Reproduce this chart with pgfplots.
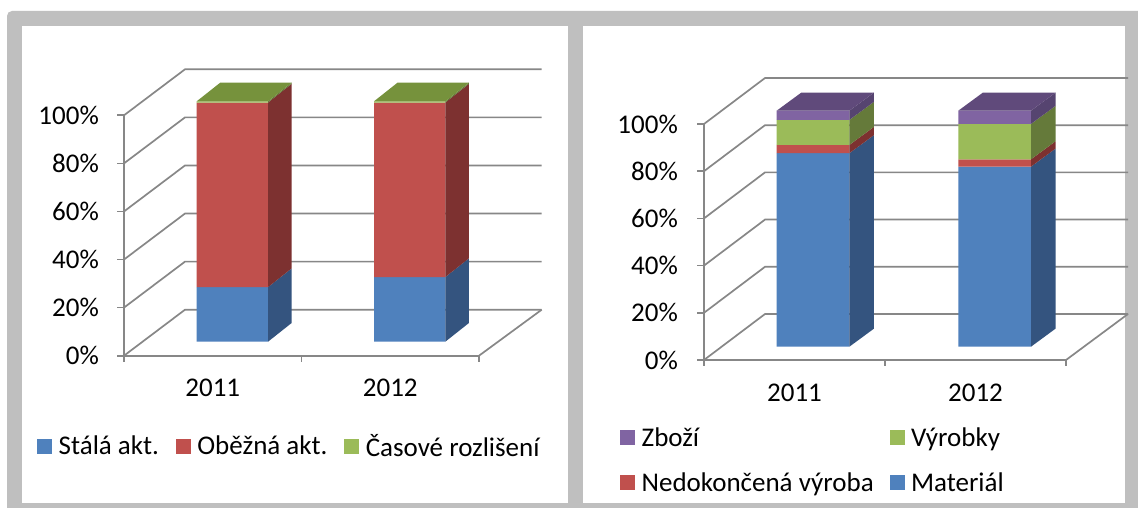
\documentclass[border=0pt]{standalone}
\usepackage{pgfplots}
\pgfplotsset{compat=1.18}
\usepackage{fontspec}
\setmainfont{Carlito}
\definecolor{gridc}{HTML}{878787}
\definecolor{framec}{HTML}{BFBFBF}
\definecolor{blueF}{HTML}{4F81BD}
\definecolor{blueS}{HTML}{34547F}
\definecolor{redF}{HTML}{C0504D}
\definecolor{redS}{HTML}{7D3130}
\definecolor{greenF}{HTML}{9BBB59}
\definecolor{greenS}{HTML}{657A3A}
\definecolor{greenT}{HTML}{76923C}
\definecolor{purpF}{HTML}{8064A2}
\definecolor{purpS}{HTML}{564470}
\definecolor{purpT}{HTML}{604A7B}
% one stacked segment: left x, bottom (%), value (%), front colour, side colour
\newcommand{\seg}[5]{%
 \pgfmathsetmacro\xl{#1}\pgfmathsetmacro\xr{#1+\bw}\pgfmathsetmacro\xs{#1+\bw+\ddx}%
 \pgfmathsetmacro\yb{#2+\bz}\pgfmathsetmacro\yt{#2+#3+\bz}%
 \pgfmathsetmacro\ybs{#2+\bz+\ddy}\pgfmathsetmacro\yts{#2+#3+\bz+\ddy}%
 \edef\tmp{\noexpand\addplot[fill=#4,draw=none,forget plot] coordinates {(\xl,\yb) (\xr,\yb) (\xr,\yt) (\xl,\yt) (\xl,\yb)};
 \noexpand\addplot[fill=#5,draw=none,forget plot] coordinates {(\xr,\yb) (\xs,\ybs) (\xs,\yts) (\xr,\yt) (\xr,\yb)};}\tmp}
% top face: left x, top (%), colour
\newcommand{\topf}[3]{%
 \pgfmathsetmacro\xl{#1}\pgfmathsetmacro\xr{#1+\bw}%
 \pgfmathsetmacro\xlb{#1+\ddx}\pgfmathsetmacro\xs{#1+\bw+\ddx}%
 \pgfmathsetmacro\yt{#2+\bz}\pgfmathsetmacro\yts{#2+\bz+\ddy}%
 \edef\tmp{\noexpand\addplot[fill=#3,draw=none,forget plot] coordinates {(\xl,\yt) (\xr,\yt) (\xs,\yts) (\xlb,\yts) (\xl,\yt)};}\tmp}
\pgfplotsset{
  sq/.style={legend image code/.code={\fill[##1] (0pt,-7pt) rectangle (14pt,7pt);}},
}
\newcommand{\bigf}{\fontsize{27}{32.5}\selectfont}
\begin{document}
\begin{tikzpicture}[font=\bigf]
\fill[white] (0,0) rectangle (1138pt,508pt);
\fill[framec, rounded corners=5pt] (7pt,-10pt) rectangle (1150pt,497pt);
\fill[white] (22pt,5pt) rectangle (568pt,482pt);
\fill[white] (583pt,5pt) rectangle (1125pt,482pt);
% ---------------- left chart ----------------
\def\bw{71.3}\def\ddx{23.5}\def\ddy{7.74}\def\bz{5.82}
\begin{axis}[
  at={(0pt,0pt)}, anchor=south west,
  x=1pt, y=2.404pt,
  xmin=-124, xmax=456, ymin=-63.35, ymax=148,
  hide axis, clip=false,
  legend columns=3, legend cell align=left,
  legend style={draw=none, fill=none, inner sep=0pt,
    at={(axis description cs:0.064,0.122)}, anchor=west,
    font=\bigf,
    /tikz/every odd column/.append style={column sep=5pt},
    /tikz/every even column/.append style={column sep=15pt}},
]
\pgfplotsinvokeforeach{0,20,40,60,80,100}{
  \draw[gridc,line width=1.7pt] (axis cs:0,#1) -- ++(61pt,46pt) -- ++(356.7pt,0pt);
  \draw[gridc,line width=1.7pt] (axis cs:0,#1) -- ++(-7pt,0pt);
  \node[anchor=east,inner sep=0pt] at (axis cs:-25,#1) {#1\%};
}
\draw[gridc,line width=1.7pt] (axis cs:355,0) -- ++(62.7pt,46pt);
\draw[gridc,line width=1.7pt] (axis cs:0,0) -- (axis cs:0,100);
\draw[gridc,line width=1.7pt] (axis cs:0,0) -- (axis cs:355,0);
\pgfplotsinvokeforeach{0,177.5,355}{\draw[gridc,line width=1.7pt] (axis cs:#1,0) -- ++(0pt,-6pt);}
% 2011
\seg{72.7}{0}{22.7}{blueF}{blueS}
\seg{72.7}{22.7}{76.8}{redF}{redS}
\seg{72.7}{99.5}{0.5}{greenF}{greenS}
\topf{72.7}{100}{greenT}
% 2012
\seg{250}{0}{26.9}{blueF}{blueS}
\seg{250}{26.9}{72.6}{redF}{redS}
\seg{250}{99.5}{0.5}{greenF}{greenS}
\topf{250}{100}{greenT}
\node at (axis cs:88.75,0) [yshift=-32pt] {2011};
\node at (axis cs:266.25,0) [yshift=-32pt] {2012};
\addlegendimage{sq, blueF}\addlegendentry{Stálá akt.}
\addlegendimage{sq, redF}\addlegendentry{Oběžná akt.}
\addlegendimage{sq, greenF}\addlegendentry{Časové rozlišení}
\end{axis}
% ---------------- right chart ----------------
\def\bw{72.7}\def\ddx{24.5}\def\ddy{7.63}\def\bz{5.64}
\begin{axis}[
  at={(580pt,0pt)}, anchor=south west,
  x=1pt, y=2.36pt,
  xmin=-124, xmax=434, ymin=-62.71, ymax=152.5,
  hide axis, clip=false,
  legend columns=2, legend cell align=left,
  legend style={draw=none, fill=none, inner sep=0pt,
    at={(axis description cs:0.0717,0.0945)}, anchor=west,
    font=\bigf,
    /tikz/every odd column/.append style={column sep=5pt},
    /tikz/every even column/.append style={column sep=14pt},
    row sep=21pt},
]
\pgfplotsinvokeforeach{0,20,40,60,80,100}{
  \draw[gridc,line width=1.7pt] (axis cs:0,#1) -- ++(61pt,46pt) -- ++(363pt,0pt);
  \draw[gridc,line width=1.7pt] (axis cs:0,#1) -- ++(-7pt,0pt);
  \node[anchor=east,inner sep=0pt] at (axis cs:-26,#1) {#1\%};
}
\draw[gridc,line width=1.7pt] (axis cs:362,0) -- ++(62pt,46pt);
\draw[gridc,line width=1.7pt] (axis cs:0,0) -- (axis cs:0,100);
\draw[gridc,line width=1.7pt] (axis cs:0,0) -- (axis cs:362,0);
\pgfplotsinvokeforeach{0,181,362}{\draw[gridc,line width=1.7pt] (axis cs:#1,0) -- ++(0pt,-6pt);}
% 2011
\seg{72.7}{0}{82.0}{blueF}{blueS}
\seg{72.7}{82.0}{3.5}{redF}{redS}
\seg{72.7}{85.5}{10.6}{greenF}{greenS}
\seg{72.7}{96.1}{3.9}{purpF}{purpS}
\topf{72.7}{100}{purpT}
% 2012
\seg{254.3}{0}{76.3}{blueF}{blueS}
\seg{254.3}{76.3}{3.1}{redF}{redS}
\seg{254.3}{79.4}{15.0}{greenF}{greenS}
\seg{254.3}{94.4}{5.6}{purpF}{purpS}
\topf{254.3}{100}{purpT}
\node at (axis cs:90.5,0) [yshift=-33pt] {2011};
\node at (axis cs:271.5,0) [yshift=-33pt] {2012};
\addlegendimage{sq, purpF}\addlegendentry{Zboží}
\addlegendimage{sq, greenF}\addlegendentry{Výrobky}
\addlegendimage{sq, redF}\addlegendentry{Nedokončená výroba}
\addlegendimage{sq, blueF}\addlegendentry{Materiál}
\end{axis}
\pgfresetboundingbox
\useasboundingbox (0,0) rectangle (1138pt,508pt);
\end{tikzpicture}
\end{document}
